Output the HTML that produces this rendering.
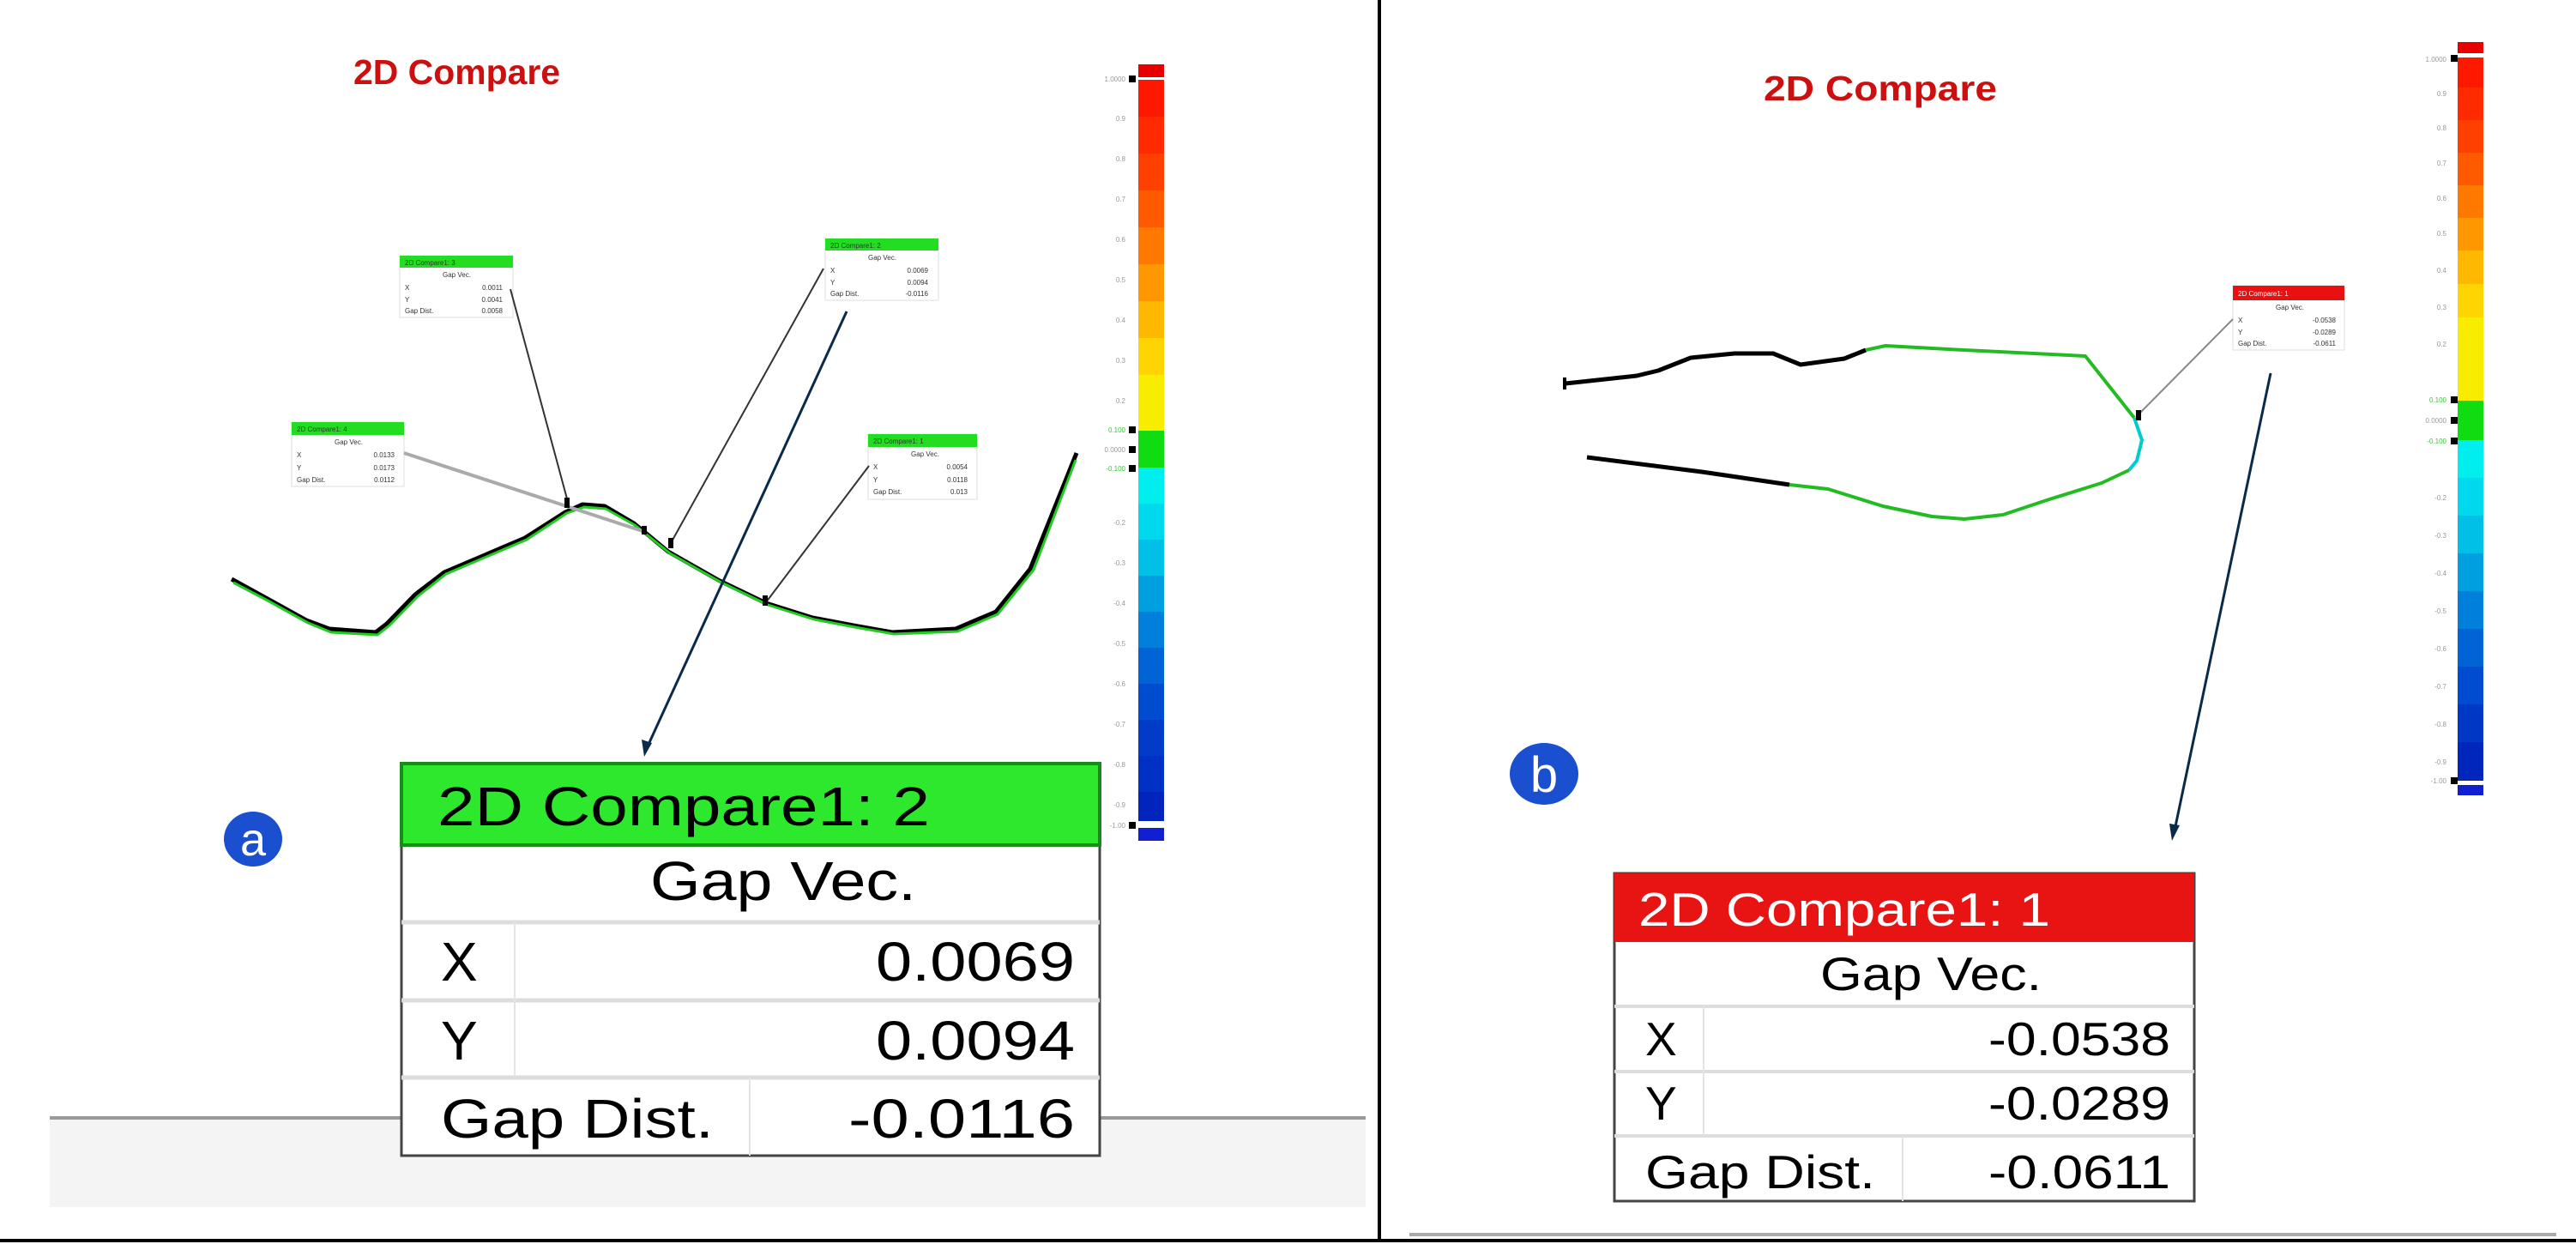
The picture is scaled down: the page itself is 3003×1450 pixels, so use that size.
<!DOCTYPE html>
<html><head><meta charset="utf-8"><style>html,body{margin:0;padding:0;background:#fff}svg{display:block}</style></head>
<body>
<svg width="3003" height="1450" viewBox="0 0 3003 1450" xmlns="http://www.w3.org/2000/svg" font-family="Liberation Sans, DejaVu Sans, sans-serif">
<rect width="3003" height="1450" fill="#fff"/>

<!-- Titles -->
<text x="412" y="98" font-size="41" font-weight="bold" fill="#cc1010" textLength="241" lengthAdjust="spacingAndGlyphs">2D Compare</text>
<text x="2056" y="117" font-size="41" font-weight="bold" fill="#cc1010" textLength="272" lengthAdjust="spacingAndGlyphs">2D Compare</text>

<!-- Left colorbar -->
<g>
<rect x="1327" y="75" width="30" height="15" fill="#e80000"/>
<rect x="1327" y="965" width="30" height="15" fill="#1020d0"/>
<rect x="1327" y="93" width="30" height="43" fill="#ff1800"/>
<rect x="1327" y="136" width="30" height="43" fill="#ff2a00"/>
<rect x="1327" y="179" width="30" height="43" fill="#ff4000"/>
<rect x="1327" y="222" width="30" height="43" fill="#ff5a00"/>
<rect x="1327" y="265" width="30" height="43" fill="#ff7800"/>
<rect x="1327" y="308" width="30" height="43" fill="#ff9800"/>
<rect x="1327" y="351" width="30" height="43" fill="#ffb800"/>
<rect x="1327" y="394" width="30" height="43" fill="#ffd400"/>
<rect x="1327" y="437" width="30" height="65" fill="#f8ec00"/>
<rect x="1327" y="502" width="30" height="43" fill="#10dd10"/>
<rect x="1327" y="545" width="30" height="42" fill="#00eeee"/>
<rect x="1327" y="587" width="30" height="42" fill="#00d8ee"/>
<rect x="1327" y="629" width="30" height="42" fill="#00c0e8"/>
<rect x="1327" y="671" width="30" height="42" fill="#00a0e0"/>
<rect x="1327" y="713" width="30" height="42" fill="#0080dc"/>
<rect x="1327" y="755" width="30" height="42" fill="#0064d6"/>
<rect x="1327" y="797" width="30" height="42" fill="#004cd0"/>
<rect x="1327" y="839" width="30" height="42" fill="#003cc8"/>
<rect x="1327" y="881" width="30" height="42" fill="#0030c4"/>
<rect x="1327" y="923" width="30" height="34" fill="#0024bc"/>
<rect x="1316" y="88" width="8" height="8" fill="#000"/>
<rect x="1316" y="497" width="8" height="8" fill="#000"/>
<rect x="1316" y="520" width="8" height="8" fill="#000"/>
<rect x="1316" y="542" width="8" height="8" fill="#000"/>
<rect x="1316" y="958" width="8" height="8" fill="#000"/>
<g font-size="8" fill="#999" text-anchor="end">
<text x="1312" y="95">1.0000</text><text x="1312" y="141">0.9</text><text x="1312" y="188">0.8</text><text x="1312" y="235">0.7</text><text x="1312" y="282">0.6</text><text x="1312" y="329">0.5</text><text x="1312" y="376">0.4</text><text x="1312" y="423">0.3</text><text x="1312" y="470">0.2</text>
<text x="1312" y="504" fill="#3c3">0.100</text><text x="1312" y="527">0.0000</text><text x="1312" y="549" fill="#3c3">-0.100</text>
<text x="1312" y="612">-0.2</text><text x="1312" y="659">-0.3</text><text x="1312" y="706">-0.4</text><text x="1312" y="753">-0.5</text><text x="1312" y="800">-0.6</text><text x="1312" y="847">-0.7</text><text x="1312" y="894">-0.8</text><text x="1312" y="941">-0.9</text><text x="1312" y="965">-1.00</text>
</g>
</g>

<!-- Right colorbar -->
<g>
<rect x="2865" y="49" width="30" height="13" fill="#e80000"/>
<rect x="2865" y="915" width="30" height="12" fill="#1020d0"/>
<rect x="2865" y="67" width="30" height="35" fill="#ff1800"/>
<rect x="2865" y="102" width="30" height="38" fill="#ff2a00"/>
<rect x="2865" y="140" width="30" height="38" fill="#ff4000"/>
<rect x="2865" y="178" width="30" height="38" fill="#ff5a00"/>
<rect x="2865" y="216" width="30" height="38" fill="#ff7800"/>
<rect x="2865" y="254" width="30" height="38" fill="#ff9800"/>
<rect x="2865" y="292" width="30" height="39" fill="#ffb800"/>
<rect x="2865" y="331" width="30" height="39" fill="#ffd400"/>
<rect x="2865" y="370" width="30" height="97" fill="#f8ec00"/>
<rect x="2865" y="467" width="30" height="46" fill="#10dd10"/>
<rect x="2865" y="513" width="30" height="44" fill="#00eeee"/>
<rect x="2865" y="557" width="30" height="44" fill="#00d8ee"/>
<rect x="2865" y="601" width="30" height="44" fill="#00c0e8"/>
<rect x="2865" y="645" width="30" height="44" fill="#00a0e0"/>
<rect x="2865" y="689" width="30" height="44" fill="#0080dc"/>
<rect x="2865" y="733" width="30" height="44" fill="#0064d6"/>
<rect x="2865" y="777" width="30" height="44" fill="#004cd0"/>
<rect x="2865" y="821" width="30" height="44" fill="#0038c6"/>
<rect x="2865" y="865" width="30" height="45" fill="#0026bc"/>
<rect x="2857" y="64" width="8" height="8" fill="#000"/>
<rect x="2857" y="462" width="8" height="8" fill="#000"/>
<rect x="2857" y="486" width="8" height="8" fill="#000"/>
<rect x="2857" y="510" width="8" height="8" fill="#000"/>
<rect x="2857" y="906" width="8" height="8" fill="#000"/>
<g font-size="8" fill="#999" text-anchor="end">
<text x="2852" y="72">1.0000</text><text x="2852" y="112">0.9</text><text x="2852" y="152">0.8</text><text x="2852" y="193">0.7</text><text x="2852" y="234">0.6</text><text x="2852" y="275">0.5</text><text x="2852" y="318">0.4</text><text x="2852" y="361">0.3</text><text x="2852" y="404">0.2</text>
<text x="2852" y="469" fill="#3c3">0.100</text><text x="2852" y="493">0.0000</text><text x="2852" y="517" fill="#3c3">-0.100</text>
<text x="2852" y="583">-0.2</text><text x="2852" y="627">-0.3</text><text x="2852" y="671">-0.4</text><text x="2852" y="715">-0.5</text><text x="2852" y="759">-0.6</text><text x="2852" y="803">-0.7</text><text x="2852" y="847">-0.8</text><text x="2852" y="891">-0.9</text><text x="2852" y="913">-1.00</text>
</g>
</g>

<!-- Left curve -->
<polyline fill="none" stroke="#000" stroke-width="5" stroke-linejoin="round" points="270,675 310,697 357,723 384,733 438,737 451,727 484,693 518,667 558,650 612,627 659,597 679,588 705,590 739,610 779,643 839,677 893,703 947,720 1000,730 1040,737 1114,733 1161,713 1201,663 1255,528"/>
<polyline fill="none" stroke="#22cc22" stroke-width="3" stroke-linejoin="round" points="272,679 312,700 359,726 386,737 440,740 454,729 487,695 520,669 560,652 614,629 661,598 681,591 706,593 740,612 781,645 841,679 895,705 949,722 1002,732 1042,739 1116,736 1163,716 1205,664 1254,536"/>

<!-- Left small tables -->
<g font-size="8" fill="#333">
<g transform="translate(466,298)"><rect width="132" height="72" fill="#fff" stroke="#ddd"/><rect width="132" height="14" fill="#22dd22"/><text x="6" y="11">2D Compare1: 3</text><text x="50" y="25">Gap Vec.</text><text x="6" y="40">X</text><text x="120" y="40" text-anchor="end">0.0011</text><text x="6" y="54">Y</text><text x="120" y="54" text-anchor="end">0.0041</text><text x="6" y="67">Gap Dist.</text><text x="120" y="67" text-anchor="end">0.0058</text></g>
<g transform="translate(962,278)"><rect width="132" height="72" fill="#fff" stroke="#ddd"/><rect width="132" height="14" fill="#22dd22"/><text x="6" y="11">2D Compare1: 2</text><text x="50" y="25">Gap Vec.</text><text x="6" y="40">X</text><text x="120" y="40" text-anchor="end">0.0069</text><text x="6" y="54">Y</text><text x="120" y="54" text-anchor="end">0.0094</text><text x="6" y="67">Gap Dist.</text><text x="120" y="67" text-anchor="end">-0.0116</text></g>
<g transform="translate(340,492)"><rect width="131" height="75" fill="#fff" stroke="#ddd"/><rect width="131" height="15" fill="#22dd22"/><text x="6" y="11">2D Compare1: 4</text><text x="50" y="26">Gap Vec.</text><text x="6" y="41">X</text><text x="120" y="41" text-anchor="end">0.0133</text><text x="6" y="56">Y</text><text x="120" y="56" text-anchor="end">0.0173</text><text x="6" y="70">Gap Dist.</text><text x="120" y="70" text-anchor="end">0.0112</text></g>
<g transform="translate(1012,506)"><rect width="127" height="76" fill="#fff" stroke="#ddd"/><rect width="127" height="15" fill="#22dd22"/><text x="6" y="11">2D Compare1: 1</text><text x="50" y="26">Gap Vec.</text><text x="6" y="41">X</text><text x="116" y="41" text-anchor="end">0.0054</text><text x="6" y="56">Y</text><text x="116" y="56" text-anchor="end">0.0118</text><text x="6" y="70">Gap Dist.</text><text x="116" y="70" text-anchor="end">0.013</text></g>
</g>
<!-- leaders left -->
<line x1="595" y1="337" x2="662" y2="585" stroke="#333" stroke-width="2"/>
<line x1="471" y1="528" x2="752" y2="620" stroke="#aaa" stroke-width="4"/>
<line x1="960" y1="313" x2="782" y2="633" stroke="#333" stroke-width="2"/>
<line x1="1013" y1="543" x2="893" y2="702" stroke="#333" stroke-width="2"/>
<rect x="658" y="580" width="6" height="12" fill="#000"/>
<rect x="748" y="613" width="6" height="10" fill="#000"/>
<rect x="779" y="627" width="6" height="12" fill="#000"/>
<rect x="889" y="694" width="6" height="12" fill="#000"/>
<line x1="987" y1="363" x2="754" y2="872" stroke="#0a2a4a" stroke-width="3"/>
<polygon points="751,882 748,862 760,866" fill="#0a2a4a"/>

<!-- Right curve -->
<polyline fill="none" stroke="#000" stroke-width="5" stroke-linejoin="round" points="1825,447 1908,438 1933,432 1971,417 2022,412 2067,412 2099,425 2150,418 2175,408"/>
<polyline fill="none" stroke="#22bb22" stroke-width="4" stroke-linejoin="round" points="2175,408 2198,403 2290,408 2431,415 2488,487"/>
<polyline fill="none" stroke="#00cccc" stroke-width="4" points="2488,487 2497,513 2491,537 2482,548"/>
<polyline fill="none" stroke="#22bb22" stroke-width="4" stroke-linejoin="round" points="2482,548 2450,563 2386,583 2335,600 2290,605 2252,602 2195,590 2131,570 2086,565"/>
<polyline fill="none" stroke="#000" stroke-width="5" stroke-linejoin="round" points="2086,565 1984,550 1850,533"/>
<rect x="1822" y="440" width="4" height="14" fill="#000"/>
<g font-size="8" fill="#333" transform="translate(2603,333)"><rect width="130" height="75" fill="#fff" stroke="#ddd"/><rect width="130" height="17" fill="#e81010"/><text x="6" y="12" fill="#fff">2D Compare1: 1</text><text x="50" y="28">Gap Vec.</text><text x="6" y="43">X</text><text x="120" y="43" text-anchor="end">-0.0538</text><text x="6" y="57">Y</text><text x="120" y="57" text-anchor="end">-0.0289</text><text x="6" y="70">Gap Dist.</text><text x="120" y="70" text-anchor="end">-0.0611</text></g>
<line x1="2603" y1="372" x2="2494" y2="482" stroke="#888" stroke-width="2"/>
<rect x="2490" y="478" width="6" height="12" fill="#000"/>
<line x1="2647" y1="435" x2="2535" y2="968" stroke="#0a2a4a" stroke-width="3"/>
<polygon points="2532,980 2529,960 2541,962" fill="#0a2a4a"/>

<!-- Circles -->
<ellipse cx="295" cy="978" rx="34" ry="32" fill="#1a4fd0"/>
<text x="295" y="997" font-size="54" fill="#fff" text-anchor="middle">a</text>
<ellipse cx="1800" cy="902" rx="40" ry="36" fill="#1a4fd0"/>
<text x="1800" y="923" font-size="58" fill="#fff" text-anchor="middle">b</text>

<!-- Gray strip left -->
<rect x="58" y="1303" width="1534" height="104" fill="#f4f4f4"/>
<rect x="58" y="1301" width="1534" height="4" fill="#9a9a9a"/>

<!-- Big table a -->
<g>
<rect x="468" y="890" width="814" height="457" fill="#fff" stroke="#444" stroke-width="3"/>
<rect x="468" y="890" width="814" height="95" fill="#2ee82e" stroke="#1a8a1a" stroke-width="4"/>
<line x1="468" y1="1075" x2="1282" y2="1075" stroke="#ddd" stroke-width="5"/>
<line x1="468" y1="1166" x2="1282" y2="1166" stroke="#ddd" stroke-width="5"/>
<line x1="468" y1="1256" x2="1282" y2="1256" stroke="#ddd" stroke-width="5"/>
<line x1="600" y1="1075" x2="600" y2="1256" stroke="#e4e4e4" stroke-width="2"/>
<line x1="874" y1="1256" x2="874" y2="1347" stroke="#e4e4e4" stroke-width="2"/>
<g font-size="64" fill="#000">
<text x="510" y="962" textLength="574" lengthAdjust="spacingAndGlyphs">2D Compare1: 2</text>
<text x="758" y="1049" textLength="310" lengthAdjust="spacingAndGlyphs">Gap Vec.</text>
<text x="514" y="1143">X</text>
<text x="1021" y="1143" textLength="232" lengthAdjust="spacingAndGlyphs">0.0069</text>
<text x="514" y="1235">Y</text>
<text x="1021" y="1235" textLength="232" lengthAdjust="spacingAndGlyphs">0.0094</text>
<text x="514" y="1326" textLength="318" lengthAdjust="spacingAndGlyphs">Gap Dist.</text>
<text x="989" y="1326" textLength="264" lengthAdjust="spacingAndGlyphs">-0.0116</text>
</g>
</g>

<!-- Big table b -->
<g>
<rect x="1882" y="1018" width="676" height="382" fill="#fff" stroke="#444" stroke-width="3"/>
<rect x="1882" y="1018" width="676" height="80" fill="#e81414"/>
<line x1="1882" y1="1173" x2="2558" y2="1173" stroke="#ddd" stroke-width="4"/>
<line x1="1882" y1="1249" x2="2558" y2="1249" stroke="#ddd" stroke-width="4"/>
<line x1="1882" y1="1324" x2="2558" y2="1324" stroke="#ddd" stroke-width="4"/>
<line x1="1986" y1="1173" x2="1986" y2="1324" stroke="#e4e4e4" stroke-width="2"/>
<line x1="2218" y1="1324" x2="2218" y2="1400" stroke="#e4e4e4" stroke-width="2"/>
<g font-size="55" fill="#000">
<text x="1910" y="1079" fill="#fff" textLength="480" lengthAdjust="spacingAndGlyphs">2D Compare1: 1</text>
<text x="2122" y="1154" textLength="258" lengthAdjust="spacingAndGlyphs">Gap Vec.</text>
<text x="1918" y="1230">X</text>
<text x="2318" y="1230" textLength="212" lengthAdjust="spacingAndGlyphs">-0.0538</text>
<text x="1918" y="1305">Y</text>
<text x="2318" y="1305" textLength="212" lengthAdjust="spacingAndGlyphs">-0.0289</text>
<text x="1918" y="1385" textLength="268" lengthAdjust="spacingAndGlyphs">Gap Dist.</text>
<text x="2318" y="1385" textLength="212" lengthAdjust="spacingAndGlyphs">-0.0611</text>
</g>
</g>

<!-- Frame lines -->
<rect x="1606" y="0" width="4" height="1447" fill="#000"/>
<rect x="1643" y="1437" width="1337" height="4" fill="#aaa"/>
<rect x="0" y="1444" width="3003" height="4" fill="#000"/>
</svg>
</body></html>
